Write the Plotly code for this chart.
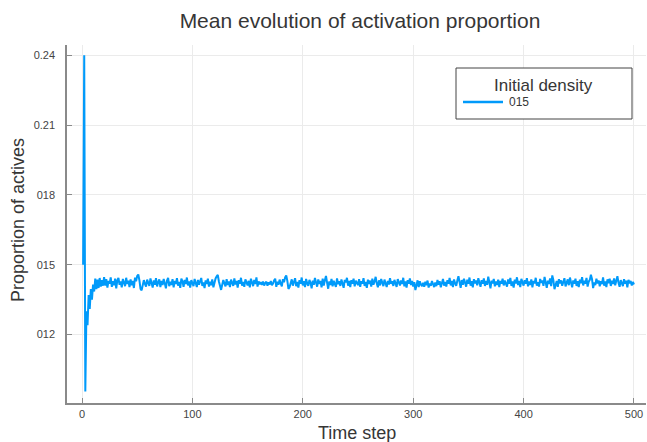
import plotly.graph_objects as go

# Mean proportion of active units per time step
props_001_020 = [0.1500, 0.2400, 0.0955, 0.1300, 0.1240, 0.1370, 0.1310, 0.1395, 0.1350, 0.1415,
                 0.1385, 0.1440, 0.1395, 0.1436, 0.1400, 0.1443, 0.1406, 0.1434, 0.1410, 0.1447]
props_021_100 = [0.1410, 0.1438, 0.1402, 0.1431, 0.1419, 0.1446, 0.1405, 0.1429, 0.1412, 0.1440,
                 0.1398, 0.1433, 0.1443, 0.1414, 0.1428, 0.1403, 0.1439, 0.1421, 0.1408, 0.1444,
                 0.1417, 0.1432, 0.1404, 0.1437, 0.1412, 0.1430, 0.1400, 0.1445, 0.1429, 0.1452,
                 0.1458, 0.1433, 0.1396, 0.1390, 0.1411, 0.1434, 0.1418, 0.1406, 0.1436, 0.1422,
                 0.1409, 0.1441, 0.1419, 0.1402, 0.1433, 0.1414, 0.1442, 0.1407, 0.1425, 0.1437,
                 0.1404, 0.1430, 0.1413, 0.1439, 0.1420, 0.1399, 0.1432, 0.1444, 0.1408, 0.1427,
                 0.1413, 0.1438, 0.1403, 0.1431, 0.1418, 0.1442, 0.1410, 0.1426, 0.1401, 0.1440,
                 0.1429, 0.1405, 0.1435, 0.1417, 0.1445, 0.1411, 0.1428, 0.1402, 0.1434, 0.1421]
props_101_200 = [0.1408, 0.1439, 0.1420, 0.1404, 0.1435, 0.1414, 0.1429, 0.1443, 0.1409, 0.1424,
                 0.1400, 0.1433, 0.1417, 0.1440, 0.1406, 0.1427, 0.1412, 0.1437, 0.1403, 0.1430,
                 0.1441, 0.1450, 0.1456, 0.1428, 0.1401, 0.1392, 0.1414, 0.1434, 0.1420, 0.1407,
                 0.1438, 0.1413, 0.1428, 0.1404, 0.1436, 0.1419, 0.1409, 0.1441, 0.1415, 0.1430,
                 0.1402, 0.1434, 0.1418, 0.1444, 0.1410, 0.1426, 0.1405, 0.1437, 0.1420, 0.1411,
                 0.1431, 0.1403, 0.1440, 0.1422, 0.1408, 0.1435, 0.1417, 0.1446, 0.1406, 0.1428,
                 0.1416, 0.1425, 0.1413, 0.1428, 0.1411, 0.1421, 0.1427, 0.1410, 0.1424, 0.1415,
                 0.1430, 0.1412, 0.1419, 0.1433, 0.1440, 0.1405, 0.1427, 0.1414, 0.1436, 0.1420,
                 0.1407, 0.1438, 0.1425, 0.1446, 0.1454, 0.1431, 0.1396, 0.1404, 0.1421, 0.1437,
                 0.1410, 0.1429, 0.1442, 0.1408, 0.1426, 0.1402, 0.1434, 0.1418, 0.1445, 0.1411]
props_201_300 = [0.1429, 0.1404, 0.1439, 0.1419, 0.1409, 0.1435, 0.1422, 0.1399, 0.1432, 0.1414,
                 0.1443, 0.1424, 0.1406, 0.1437, 0.1418, 0.1430, 0.1403, 0.1440, 0.1411, 0.1433,
                 0.1452, 0.1423, 0.1397, 0.1428, 0.1413, 0.1439, 0.1407, 0.1431, 0.1420, 0.1405,
                 0.1441, 0.1417, 0.1429, 0.1409, 0.1437, 0.1422, 0.1401, 0.1435, 0.1424, 0.1444,
                 0.1410, 0.1430, 0.1404, 0.1434, 0.1418, 0.1440, 0.1407, 0.1431, 0.1421, 0.1413,
                 0.1438, 0.1405, 0.1429, 0.1419, 0.1442, 0.1409, 0.1426, 0.1401, 0.1436, 0.1417,
                 0.1432, 0.1406, 0.1440, 0.1414, 0.1428, 0.1448, 0.1420, 0.1403, 0.1433, 0.1411,
                 0.1439, 0.1421, 0.1408, 0.1436, 0.1424, 0.1404, 0.1431, 0.1415, 0.1442, 0.1418,
                 0.1429, 0.1409, 0.1435, 0.1420, 0.1405, 0.1438, 0.1422, 0.1411, 0.1432, 0.1417,
                 0.1444, 0.1407, 0.1428, 0.1402, 0.1434, 0.1419, 0.1441, 0.1413, 0.1430, 0.1406]
props_301_400 = [0.1425, 0.1391, 0.1412, 0.1433, 0.1404, 0.1429, 0.1415, 0.1408, 0.1422, 0.1405,
                 0.1427, 0.1412, 0.1432, 0.1402, 0.1419, 0.1410, 0.1430, 0.1416, 0.1404, 0.1424,
                 0.1408, 0.1435, 0.1414, 0.1429, 0.1403, 0.1420, 0.1439, 0.1410, 0.1426, 0.1406,
                 0.1434, 0.1418, 0.1443, 0.1411, 0.1430, 0.1404, 0.1437, 0.1420, 0.1409, 0.1432,
                 0.1451, 0.1425, 0.1401, 0.1434, 0.1414, 0.1440, 0.1421, 0.1406, 0.1436, 0.1418,
                 0.1445, 0.1410, 0.1429, 0.1403, 0.1438, 0.1420, 0.1432, 0.1412, 0.1442, 0.1423,
                 0.1405, 0.1434, 0.1418, 0.1441, 0.1409, 0.1430, 0.1414, 0.1449, 0.1424, 0.1399,
                 0.1432, 0.1420, 0.1439, 0.1407, 0.1428, 0.1413, 0.1436, 0.1404, 0.1431, 0.1419,
                 0.1440, 0.1411, 0.1432, 0.1422, 0.1406, 0.1437, 0.1418, 0.1443, 0.1409, 0.1428,
                 0.1402, 0.1436, 0.1420, 0.1446, 0.1413, 0.1430, 0.1404, 0.1439, 0.1423, 0.1410]
props_401_500 = [0.1434, 0.1419, 0.1442, 0.1407, 0.1428, 0.1413, 0.1437, 0.1403, 0.1431, 0.1420,
                 0.1444, 0.1410, 0.1425, 0.1406, 0.1439, 0.1422, 0.1433, 0.1409, 0.1448, 0.1421,
                 0.1401, 0.1432, 0.1418, 0.1441, 0.1408, 0.1454, 0.1434, 0.1395, 0.1414, 0.1430,
                 0.1405, 0.1438, 0.1420, 0.1433, 0.1410, 0.1427, 0.1442, 0.1407, 0.1423, 0.1437,
                 0.1412, 0.1445, 0.1424, 0.1403, 0.1433, 0.1418, 0.1440, 0.1409, 0.1429, 0.1404,
                 0.1436, 0.1421, 0.1447, 0.1411, 0.1431, 0.1419, 0.1443, 0.1406, 0.1427, 0.1435,
                 0.1457, 0.1438, 0.1400, 0.1424, 0.1413, 0.1440, 0.1420, 0.1433, 0.1407, 0.1429,
                 0.1417, 0.1446, 0.1410, 0.1428, 0.1404, 0.1437, 0.1421, 0.1440, 0.1409, 0.1431,
                 0.1418, 0.1441, 0.1412, 0.1429, 0.1451, 0.1422, 0.1405, 0.1434, 0.1424, 0.1408,
                 0.1438, 0.1419, 0.1432, 0.1403, 0.1435, 0.1420, 0.1430, 0.1411, 0.1426, 0.1415]

proportions = props_001_020 + props_021_100 + props_101_200 + props_201_300 + props_301_400 + props_401_500
time_steps = list(range(1, len(proportions) + 1))

series_name = "015"
legend_title = "Initial density"
x_tick_vals = [0, 100, 200, 300, 400, 500]
y_tick_vals = [0.12, 0.15, 0.18, 0.21, 0.24]
y_tick_text = ["012", "015", "018", "0.21", "0.24"]

FONT = "Liberation Sans, Arial, Helvetica, sans-serif"
TXT = "#363636"
LINE_COLOR = "#009AFA"

# plot area in pixels (left, right, top, bottom)
PL, PR, PT, PB = 67, 646, 45, 403
W, H = 647, 442


def px(xp):
    return (xp - PL) / (PR - PL)


def py(yp):
    return (PB - yp) / (PB - PT)


fig = go.Figure()
fig.add_trace(go.Scatter(
    x=time_steps, y=proportions, mode="lines", name=series_name,
    line=dict(color=LINE_COLOR, width=2), showlegend=False,
))

axis_common = dict(
    showline=True, linecolor="#8a8a8a", linewidth=1.5,
    showgrid=True, gridcolor="#ebebeb", gridwidth=1,
    zeroline=False, ticks="inside", ticklen=5, tickcolor="#8a8a8a",
    tickfont=dict(family=FONT, size=11, color="#444444"),
    mirror=False, automargin=False,
)

annotations = [
    dict(text="Proportion of actives", x=px(18), y=py(220), xref="paper", yref="paper",
         textangle=-90, showarrow=False, xanchor="center", yanchor="middle",
         font=dict(family=FONT, size=18, color=TXT)),
    dict(text="Time step", x=px(357), y=py(433), xref="paper", yref="paper",
         showarrow=False, xanchor="center", yanchor="middle",
         font=dict(family=FONT, size=18, color=TXT)),
    dict(text=legend_title, x=px(543), y=py(85), xref="paper", yref="paper",
         showarrow=False, xanchor="center", yanchor="middle",
         font=dict(family=FONT, size=17, color=TXT)),
    dict(text=series_name, x=px(507), y=py(102), xref="paper", yref="paper",
         showarrow=False, xanchor="left", yanchor="middle",
         font=dict(family=FONT, size=12, color=TXT)),
]

shapes = [
    dict(type="rect", xref="paper", yref="paper", x0=px(456), x1=px(632), y0=py(119), y1=py(68),
         line=dict(color="#444444", width=1), fillcolor="white", layer="above"),
    dict(type="line", xref="paper", yref="paper", x0=px(463), x1=px(503), y0=py(102), y1=py(102),
         line=dict(color=LINE_COLOR, width=2.5), layer="above"),
]

fig.update_layout(
    width=W, height=H,
    margin=dict(l=PL, r=W - PR, t=PT, b=H - PB),
    paper_bgcolor="white", plot_bgcolor="white",
    title=dict(text="Mean evolution of activation proportion", x=360 / W, xanchor="center",
               y=1 - 21 / H, yanchor="middle", font=dict(family=FONT, size=21, color=TXT)),
    xaxis=dict(axis_common, range=[-13.6, 510.9], tickvals=x_tick_vals),
    yaxis=dict(axis_common, range=[0.0906, 0.2444], tickvals=y_tick_vals, ticktext=y_tick_text,
               ticklabelstandoff=8),
    showlegend=False,
    annotations=annotations,
    shapes=shapes,
)

# remove the browser's default page margin so the figure sits at the window origin
fig.write_html("out.html",
               config={"displayModeBar": False},
               post_script="document.body.style.margin='0';document.body.style.padding='0';"
                           "document.body.style.overflow='hidden';")
